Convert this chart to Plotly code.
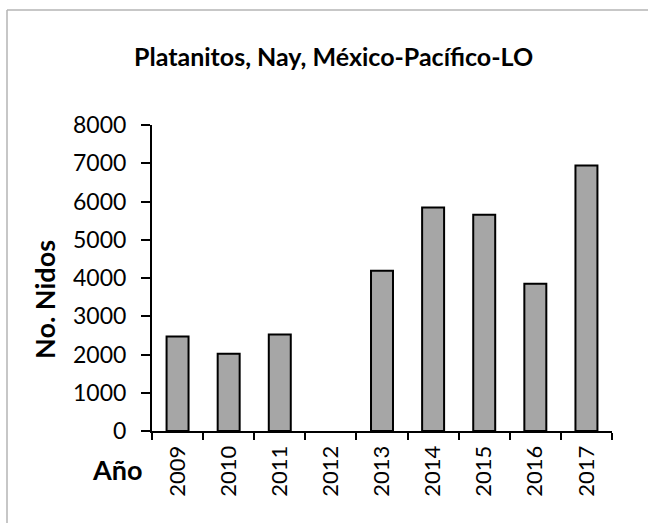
import plotly.graph_objects as go

years = ["2009", "2010", "2011", "2012", "2013", "2014", "2015", "2016", "2017"]
nests = [2470, 2020, 2520, 0, 4190, 5840, 5655, 3850, 6940]
y_ticks = [0, 1000, 2000, 3000, 4000, 5000, 6000, 7000, 8000]

title_text = "Platanitos, Nay, México-Pacífico-LO"
y_title = "No. Nidos"
x_title = "Año"

W, H = 648, 523
L, R, T, B = 152, 36, 125, 92
pw, ph = W - L - R, H - T - B

FONT = "Lato"

fig = go.Figure(go.Bar(
    x=years, y=nests,
    marker=dict(color="#A6A6A6",
                line=dict(color="black", width=[2 if v > 0 else 0 for v in nests])),
    width=0.43,
))

def px_x(p):
    return (p - L) / pw

def px_y(p):
    return (H - B - p) / ph

fig.update_layout(
    width=W, height=H,
    margin=dict(l=L, r=R, t=T, b=B),
    paper_bgcolor="white", plot_bgcolor="white",
    showlegend=False,
    font=dict(family=FONT, color="black"),
    xaxis=dict(
        type="category", tickson="boundaries", ticks="outside", ticklen=7,
        tickwidth=2, tickcolor="black", showline=True, linecolor="black",
        linewidth=2, tickangle=-90, tickfont=dict(size=22, family=FONT),
        showgrid=False, ticklabelstandoff=4,
    ),
    yaxis=dict(
        range=[0, 8000], tickvals=y_ticks, ticks="outside", ticklen=9,
        tickwidth=2, tickcolor="black", showline=True, linecolor="black",
        linewidth=2, tickfont=dict(size=23, family=FONT), showgrid=False,
        zeroline=False, ticklabelstandoff=10,
    ),
    annotations=[
        dict(text=title_text, xref="paper", yref="paper", x=px_x(333), y=px_y(56),
             xanchor="center", yanchor="middle", showarrow=False,
             font=dict(size=25, family=FONT, weight="bold")),
        dict(text=x_title, xref="paper", yref="paper", x=px_x(117), y=px_y(469),
             xanchor="center", yanchor="middle", showarrow=False,
             font=dict(size=27, family=FONT, weight="bold")),
        dict(text=y_title, xref="paper", yref="paper", x=px_x(44), y=px_y(300),
             xanchor="center", yanchor="middle", showarrow=False, textangle=-90,
             font=dict(size=27, family=FONT, weight="bold")),
    ],
    shapes=[
        dict(type="line", xref="paper", yref="paper", x0=px_x(7), x1=px_x(7),
             y0=px_y(10), y1=px_y(523), line=dict(color="#B4B4B4", width=1.5)),
        dict(type="line", xref="paper", yref="paper", x0=px_x(7), x1=px_x(648),
             y0=px_y(10), y1=px_y(10), line=dict(color="#B4B4B4", width=1.5)),
    ],
)

fig.write_html("out.html", config={"displayModeBar": False},
               post_script="document.body.style.margin='0';")
